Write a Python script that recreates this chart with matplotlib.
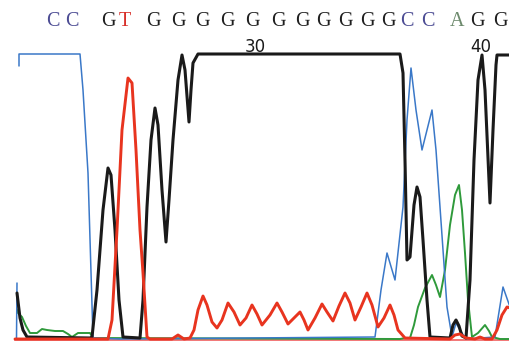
import numpy as np
import matplotlib
matplotlib.use("Agg")
import matplotlib.pyplot as plt

# base calls along the top, with their scan positions
bases = list("CCGTGGGGGGGGGGGCCAGG")
base_pos = [53, 72, 108, 125, 153, 178, 202, 227, 252, 278, 302, 323, 345,
            367, 388, 407, 428, 457, 477, 500]
base_colors = {"C": "#4b4b93", "G": "#1e1e1e", "T": "#d8302a", "A": "#6d8a6d"}

# position ruler
ruler_labels = ["30", "40"]
ruler_pos = [255, 481]

# traces (scan position, signal); signal clipped at 286 on the display
c_scan = [16.5, 17, np.nan, 19, 19, 80, 83, 88, 93, 120, 375, 381, 387, 395,
          403, 407, 411, 416, 422, 432, 436, 440, 447, 452, 456, 460, 466,
          495, 503, 510]
c_sig = [2, 57, np.nan, 274, 286, 286, 250, 167, 2, 1, 3, 50, 87, 60,
         133, 220, 272, 230, 190, 230, 190, 133, 33, 3, 17, 10, 1,
         3, 53, 33]

g_scan = [17, 20, 23, 27, 90, 92, 97, 103, 108, 111, 115, 119, 123, 140, 143,
          147, 151, 155, 158, 162, 166, 169, 173, 178, 182, 185, 189, 191,
          193, 198, 400, 403, 405, 407, 410, 414, 417, 420, 423, 427, 430,
          450, 453, 456, 459, 462, 466, 470, 474, 478, 482, 485, 490, 493,
          496, 497, 510]
g_sig = [47, 22, 10, 3, 2, 3, 50, 130, 172, 165, 110, 40, 3, 2, 40,
         133, 200, 232, 215, 150, 98, 140, 200, 260, 285, 270, 218, 250,
         277, 286, 286, 267, 180, 80, 83, 135, 153, 143, 100, 40, 3,
         2, 15, 20, 14, 4, 2, 60, 180, 260, 285, 250, 137, 210,
         275, 285, 285]

t_scan = [15, 108, 112, 117, 122, 128, 132, 136, 140, 143, 147, 150, 172, 178,
          184, 190, 194, 198, 203, 207, 212, 217, 222, 228, 234, 240, 246,
          252, 257, 262, 270, 277, 282, 288, 294, 300, 304, 308, 315, 322,
          327, 333, 339, 345, 350, 355, 361, 367, 372, 378, 384, 390, 394,
          398, 405, 450, 455, 460, 466, 475, 480, 485, 492, 497, 502, 507,
          510]
t_sig = [1, 1, 20, 110, 210, 262, 257, 190, 110, 67, 3, 1, 1, 5,
         1, 2, 10, 30, 44, 35, 18, 12, 20, 37, 28, 15, 22,
         35, 26, 15, 25, 37, 28, 16, 22, 28, 20, 10, 22, 36,
         28, 19, 34, 47, 37, 20, 33, 47, 35, 13, 22, 35, 25,
         10, 2, 1, 5, 6, 2, 1, 3, 1, 1, 10, 25, 33,
         32]

a_scan = [17, 18, 22, 26, 30, 37, 42, 47, 55, 63, 68, 72, 78, 90, 93, 400, 405,
          410, 414, 418, 425, 432, 436, 440, 445, 450, 455, 459, 462, 465,
          468, 472, 478, 485, 489, 492, 500, 510]
a_sig = [30, 27, 23, 14, 7, 7, 11, 10, 9, 9, 6, 3, 7, 7, 2, 1, 2,
         2, 15, 33, 52, 65, 55, 43, 70, 115, 145, 155, 130, 87,
         40, 3, 7, 15, 9, 3, 1, 1]

fig = plt.figure(figsize=(5.1, 3.41), dpi=100)
ax = fig.add_axes([0, 0, 1, 1])
ax.set_xlim(0, 510)
ax.set_ylim(-1, 340)
ax.axis("off")

style = dict(solid_joinstyle="round", solid_capstyle="round")
ax.plot(a_scan, a_sig, color="#2f9a3b", lw=1.4, zorder=2, **style)
ax.plot(c_scan, c_sig, color="#3a78c8", lw=1.1, zorder=3, **style)
ax.plot(g_scan, g_sig, color="#1a1a1a", lw=2.2, zorder=4, **style)
ax.plot(t_scan, t_sig, color="#e8341f", lw=2.1, zorder=5, **style)
ax.plot([15, 510], [0.5, 0.5], color="#f06060", lw=1.2, zorder=1)

for b, x in zip(bases, base_pos):
    ax.text(x, 319, b, color=base_colors[b], fontsize=14.5,
            family="Liberation Serif", ha="center", va="center")

for lab, x in zip(ruler_labels, ruler_pos):
    ax.text(x, 284, lab, color="#1a1a1a", fontsize=12,
            family="DejaVu Sans", ha="center", va="bottom", zorder=6)

fig.savefig("out.png", dpi=100)
